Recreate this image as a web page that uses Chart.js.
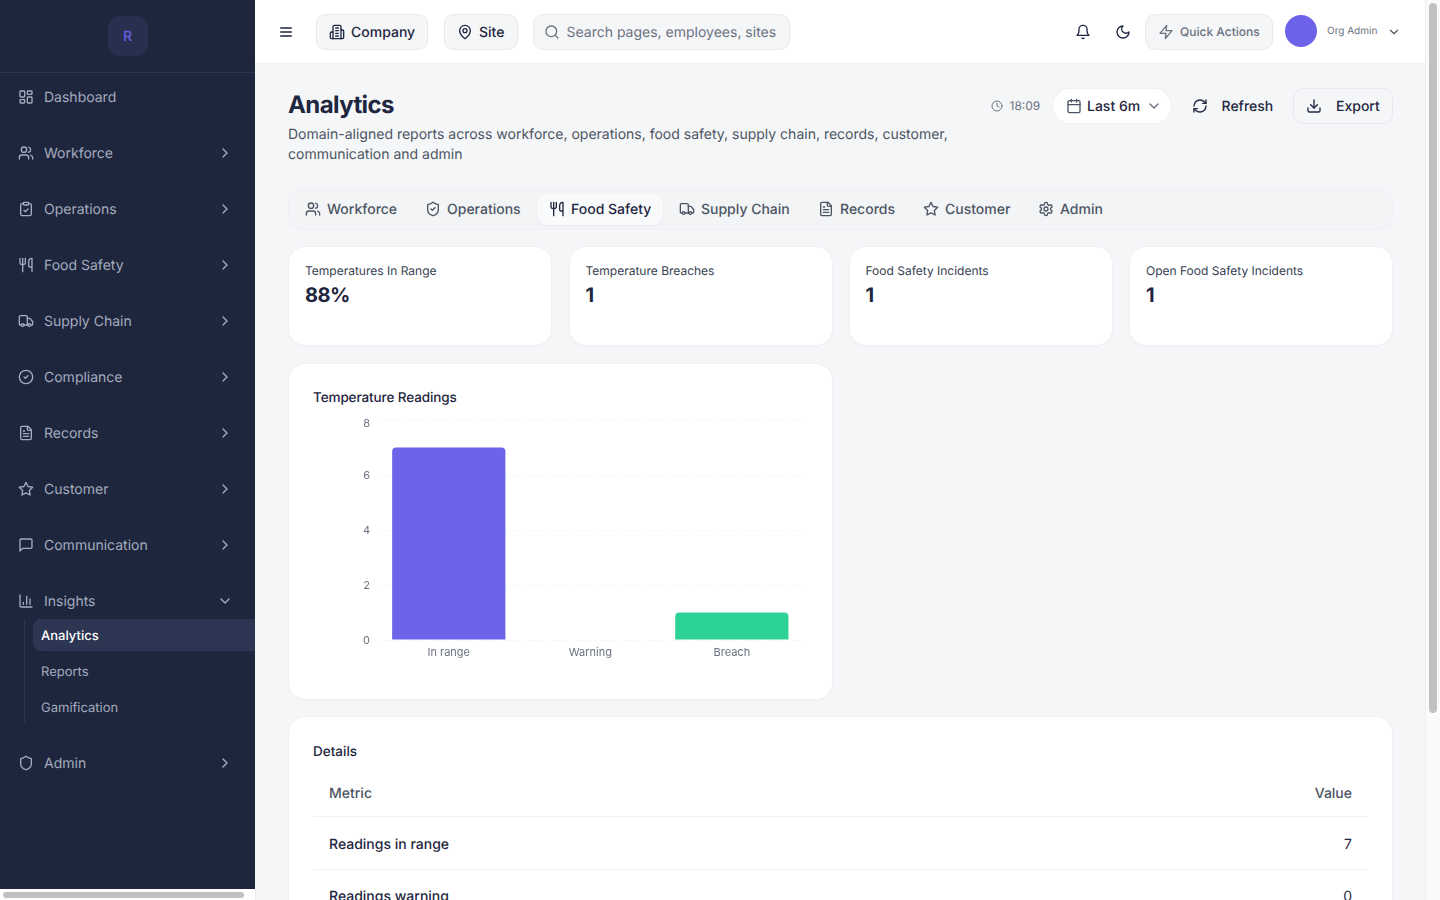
<!DOCTYPE html>
<html><head><meta charset="utf-8"><title>Analytics</title>
<script src="https://cdn.jsdelivr.net/npm/chart.js@4"></script>
<style>
*{box-sizing:border-box}
html,body{margin:0;padding:0;width:1440px;height:900px;overflow:hidden;background:#f5f6f8;font-family:Inter,sans-serif;color:#1e2640;text-rendering:geometricPrecision}
.a{position:absolute}
.t{position:absolute;white-space:nowrap;transform:translateY(-50%)}
.r{transform:translate(-100%,-50%)}
svg.i{position:absolute;fill:none;stroke:currentColor;stroke-width:2;stroke-linecap:round;stroke-linejoin:round}
.box{position:absolute;background:#f5f6f8;border:1px solid #e8eaee;border-radius:10px}
.card{position:absolute;background:#fff;border-radius:16px;box-shadow:0 0 0 1px #eff1f4,0 1px 3px rgba(20,30,50,.05)}
</style></head><body>
<div id="root"></div>
<div class="a" style="left:313px;top:410px;width:490px;height:270px;z-index:5"><canvas id="chart" width="490" height="270"></canvas></div>
<script>
const categories=['In range','Warning','Breach'];
const readings=[7,0,1];
const barColors=['#6c63e8','#f5b83d','#2dd296'];
const yMax=8;
const yStep=2;

const P={dash:'<rect x="3" y="3" width="7" height="9" rx="1"/><rect x="14" y="3" width="7" height="5" rx="1"/><rect x="14" y="12" width="7" height="9" rx="1"/><rect x="3" y="16" width="7" height="5" rx="1"/>',
users:'<path d="M16 21v-2a4 4 0 0 0-4-4H6a4 4 0 0 0-4 4v2"/><circle cx="9" cy="7" r="4"/><path d="M22 21v-2a4 4 0 0 0-3-3.87"/><path d="M16 3.13a4 4 0 0 1 0 7.75"/>',
clip:'<rect x="8" y="2" width="8" height="4" rx="1"/><path d="M16 4h2a2 2 0 0 1 2 2v14a2 2 0 0 1-2 2H6a2 2 0 0 1-2-2V6a2 2 0 0 1 2-2h2"/><path d="m9 14 2 2 4-4"/>',
food:'<path d="M3 2v7c0 1.1.9 2 2 2h4a2 2 0 0 0 2-2V2"/><path d="M7 2v20"/><path d="M21 15V2a5 5 0 0 0-5 5v6c0 1.1.9 2 2 2h3Zm0 0v7"/>',
truck:'<path d="M14 18V6a2 2 0 0 0-2-2H4a2 2 0 0 0-2 2v11a1 1 0 0 0 1 1h2"/><path d="M15 18H9"/><path d="M19 18h2a1 1 0 0 0 1-1v-3.65a1 1 0 0 0-.22-.624l-3.48-4.35A1 1 0 0 0 17.52 8H14"/><circle cx="17" cy="18" r="2"/><circle cx="7" cy="18" r="2"/>',
check:'<circle cx="12" cy="12" r="10"/><path d="m9 12 2 2 4-4"/>',
file:'<path d="M15 2H6a2 2 0 0 0-2 2v16a2 2 0 0 0 2 2h12a2 2 0 0 0 2-2V7Z"/><path d="M14 2v4a2 2 0 0 0 2 2h4"/><path d="M10 9H8"/><path d="M16 13H8"/><path d="M16 17H8"/>',
star:'<path d="M12 2l3.09 6.26L22 9.27l-5 4.87 1.18 6.88L12 17.77l-6.18 3.25L7 14.14 2 9.27l6.91-1.01L12 2z"/>',
msg:'<path d="M21 15a2 2 0 0 1-2 2H7l-4 4V5a2 2 0 0 1 2-2h14a2 2 0 0 1 2 2z"/>',
bars:'<path d="M3 3v16a2 2 0 0 0 2 2h16"/><path d="M18 17V9"/><path d="M13 17V5"/><path d="M8 17v-3"/>',
shield:'<path d="M20 13c0 5-3.5 7.5-7.66 8.95a1 1 0 0 1-.67-.01C7.5 20.5 4 18 4 13V6a1 1 0 0 1 1-1c2 0 4.5-1.2 6.24-2.72a1.17 1.17 0 0 1 1.52 0C14.51 3.81 17 5 19 5a1 1 0 0 1 1 1z"/>',
shieldc:'<path d="M20 13c0 5-3.5 7.5-7.66 8.95a1 1 0 0 1-.67-.01C7.5 20.5 4 18 4 13V6a1 1 0 0 1 1-1c2 0 4.5-1.2 6.24-2.72a1.17 1.17 0 0 1 1.52 0C14.51 3.81 17 5 19 5a1 1 0 0 1 1 1z"/><path d="m9 12 2 2 4-4"/>',
right:'<path d="m9 18 6-6-6-6"/>',down:'<path d="m6 9 6 6 6-6"/>',
menu:'<path d="M4 6h16M4 12h16M4 18h16"/>',
bld:'<path d="M6 22V4a2 2 0 0 1 2-2h8a2 2 0 0 1 2 2v18Z"/><path d="M6 12H4a2 2 0 0 0-2 2v6a2 2 0 0 0 2 2h2"/><path d="M18 9h2a2 2 0 0 1 2 2v9a2 2 0 0 1-2 2h-2"/><path d="M10 6h4M10 10h4M10 14h4M10 18h4"/>',
pin:'<path d="M20 10c0 6-8 12-8 12s-8-6-8-12a8 8 0 0 1 16 0Z"/><circle cx="12" cy="10" r="3"/>',
search:'<circle cx="11" cy="11" r="8"/><path d="m21 21-4.3-4.3"/>',
bell:'<path d="M6 8a6 6 0 0 1 12 0c0 7 3 9 3 9H3s3-2 3-9"/><path d="M10.3 21a1.94 1.94 0 0 0 3.4 0"/>',
moon:'<path d="M12 3a6 6 0 0 0 9 9 9 9 0 1 1-9-9Z"/>',
zap:'<path d="M13 2 3 14h9l-1 8 10-12h-9l1-8z"/>',
clock:'<circle cx="12" cy="12" r="10"/><path d="M12 6v6l4 2"/>',
cal:'<path d="M8 2v4M16 2v4"/><rect x="3" y="4" width="18" height="18" rx="2"/><path d="M3 10h18"/>',
refresh:'<path d="M3 12a9 9 0 0 1 9-9 9.75 9.75 0 0 1 6.74 2.74L21 8"/><path d="M21 3v5h-5"/><path d="M21 12a9 9 0 0 1-9 9 9.75 9.75 0 0 1-6.74-2.74L3 16"/><path d="M8 16H3v5"/>',
dl:'<path d="M21 15v4a2 2 0 0 1-2 2H5a2 2 0 0 1-2-2v-4"/><path d="m7 10 5 5 5-5"/><path d="M12 15V3"/>',
gear:'<path d="M12.22 2h-.44a2 2 0 0 0-2 2v.18a2 2 0 0 1-1 1.73l-.43.25a2 2 0 0 1-2 0l-.15-.08a2 2 0 0 0-2.73.73l-.22.38a2 2 0 0 0 .73 2.73l.15.1a2 2 0 0 1 1 1.72v.51a2 2 0 0 1-1 1.74l-.15.09a2 2 0 0 0-.73 2.73l.22.38a2 2 0 0 0 2.73.73l.15-.08a2 2 0 0 1 2 0l.43.25a2 2 0 0 1 1 1.73V20a2 2 0 0 0 2 2h.44a2 2 0 0 0 2-2v-.18a2 2 0 0 1 1-1.73l.43-.25a2 2 0 0 1 2 0l.15.08a2 2 0 0 0 2.73-.73l.22-.39a2 2 0 0 0-.73-2.73l-.15-.08a2 2 0 0 1-1-1.74v-.5a2 2 0 0 1 1-1.74l.15-.09a2 2 0 0 0 .73-2.73l-.22-.38a2 2 0 0 0-2.73-.73l-.15.08a2 2 0 0 1-2 0l-.43-.25a2 2 0 0 1-1-1.73V4a2 2 0 0 0-2-2z"/><circle cx="12" cy="12" r="3"/>'};

let h='';
const rect=(x,y,w,hh,s)=>{h+=`<div class="a" style="left:${x}px;top:${y}px;width:${w}px;height:${hh}px;${s}"></div>`};
const txt=(x,y,str,size,weight,color,extra='')=>{h+=`<div class="t" style="left:${x}px;top:${y}px;font-size:${size}px;font-weight:${weight};color:${color};${extra}">${str}</div>`};
const rtxt=(x,y,str,size,weight,color)=>{h+=`<div class="t r" style="left:${x}px;top:${y}px;font-size:${size}px;font-weight:${weight};color:${color}">${str}</div>`};
const ic=(n,cx,cy,s,color,sw=2)=>{h+=`<svg class="i" viewBox="0 0 24 24" style="left:${cx-s/2}px;top:${cy-s/2}px;width:${s}px;height:${s}px;color:${color};stroke-width:${sw};z-index:3">${P[n]}</svg>`};
const box=(x,y,w,hh,s='')=>{h+=`<div class="box" style="left:${x}px;top:${y}px;width:${w}px;height:${hh}px;${s}"></div>`};

/* sidebar */
rect(0,0,255,889,'background:#1e263e');
rect(0,72,255,1,'background:#2d3650');
rect(108,16,40,40,'background:#29304f;border-radius:12px');
h+=`<div class="t" style="left:127.5px;top:36px;font-size:14px;font-weight:600;color:#5f5ad6;transform:translate(-50%,-50%)">R</div>`;
const SC='#a4acbd';
const nav=[['Dashboard','dash',97,0],['Workforce','users',153,1],['Operations','clip',209,1],['Food Safety','food',265,1],['Supply Chain','truck',321,1],['Compliance','check',377,1],['Records','file',433,1],['Customer','star',489,1],['Communication','msg',545,1],['Insights','bars',601,2],['Admin','shield',763,1]];
nav.forEach(([l,n,y,c])=>{ic(n,26,y,16,SC,2);txt(44,y,l,14,400,SC);if(c)ic(c==1?'right':'down',225,y,16,SC,2);});
rect(24,619,1,104,'background:#2d3650');
rect(33,619,222,32,'background:#2c3552;border-radius:8px 0 0 8px');
txt(41,636,'Analytics',13,500,'#fff');txt(41,672,'Reports',13,400,SC);txt(41,708,'Gamification',13,400,SC);
rect(0,889,255,11,'background:#fff');
rect(3,892,241,6,'background:#c1c1c1;border-radius:4px');
rect(255,889,1,11,'background:#eceef1');

/* topbar */
rect(255,0,1170,63,'background:#fff;box-shadow:0 1px 0 #eef0f3');
ic('menu',286,32,16,'#1e2640',2);
box(316,14,112,36);ic('bld',337,32,16,'#1e2640',2);txt(351,32,'Company',14,500,'#1e2640');
box(444,14,74,36);ic('pin',465,32,16,'#1e2640',2);txt(479,32,'Site',14,500,'#1e2640');
box(533,14,257,36);ic('search',552,32,16,'#6b7280',2);txt(566.5,32,'Search pages, employees, sites',14,400,'#6b7280');
ic('bell',1083,32,16,'#1e2640',2);ic('moon',1123,32,16,'#1e2640',2);
box(1145,14,128,36);ic('zap',1166,32,16,'#6b7280',2);txt(1180,31,'Quick Actions',12,500,'#6b7280');
rect(1284.5,15,32,32,'background:#6c63e8;border-radius:50%');
txt(1327,31,'Org Admin',10,400,'#6b7280');ic('down',1394,31.5,14,'#4b5563',2);

/* heading */
txt(288,104,'Analytics',24,700,'#1e2640','letter-spacing:-.6px');
txt(288,134,'Domain-aligned reports across workforce, operations, food safety, supply chain, records, customer,',14,400,'#4b5563');
txt(288,154,'communication and admin',14,400,'#4b5563');
ic('clock',997,106,12,'#6b7280',2);txt(1009.5,105,'18:09',12,400,'#6b7280');
rect(1053,89,118,34,'background:#fff;border-radius:17px;box-shadow:0 0 0 1px #f0f1f4');
ic('cal',1073.5,106,16,'#4b5563',2);txt(1087,106,'Last 6m',14,500,'#1e2640');ic('down',1154,106,16,'#6b7280',2);
ic('refresh',1199.5,106,16,'#1e2640',2);txt(1221.5,106,'Refresh',14,500,'#1e2640');
box(1293,88,100,36,'background:transparent');ic('dl',1314,106,16,'#1e2640',2);txt(1336,106,'Export',14,500,'#1e2640');

/* tabs */
box(288,188,1105,42,'background:#f3f4f6;border-color:#eef0f3;border-radius:14px');
rect(537,194,126,31,'background:#f9fafb;border-radius:10px;box-shadow:0 1px 2px rgba(20,30,50,.06)');
const tabs=[['Workforce','users',313,327],['Operations','shieldc',433,447],['Food Safety','food',557,571],['Supply Chain','truck',687,701],['Records','file',826,840],['Customer','star',931,945],['Admin','gear',1046,1060]];
tabs.forEach(([l,n,ix,tx])=>{const on=l==='Food Safety';const c=on?'#1e2640':'#4b5563';ic(n,ix,209,16,c,2);txt(tx,209,l,14,500,c);});

/* KPI cards */
const kpis=[['Temperatures In Range','88%',289],['Temperature Breaches','1',569.5],['Food Safety Incidents','1',849.5],['Open Food Safety Incidents','1',1130]];
kpis.forEach(([l,v,x])=>{h+=`<div class="card" style="left:${x}px;top:247px;width:262px;height:98px"></div>`;txt(x+16,270,l,12,400,'#374151');txt(x+16,295,v,20,700,'#1e2640','letter-spacing:-.5px');});

/* chart card */
h+=`<div class="card" style="left:289px;top:364px;width:543px;height:335px"></div>`;
txt(313,398,'Temperature Readings',13.5,500,'#1e2640','letter-spacing:-.1px');

/* details */
h+=`<div class="card" style="left:289px;top:717px;width:1103px;height:400px"></div>`;
txt(313,752,'Details',13.5,500,'#1e2640');
txt(329,793,'Metric',14,500,'#4b5563');rtxt(1352,793,'Value',14,500,'#4b5563');
rect(313,816,1055,1,'background:#f0f1f4');
txt(329,844,'Readings in range',14,500,'#1e2640');rtxt(1352,844,'7',14,400,'#1e2640');
rect(313,869,1055,1,'background:#f0f1f4');
txt(329,896,'Readings warning',14,500,'#1e2640');rtxt(1352,896,'0',14,400,'#1e2640');

/* page scrollbar */
rect(1425,0,15,900,'background:#fafafa;border-left:1px solid #eceef1;z-index:6');
rect(1429,3,8,710,'background:#c1c1c1;border-radius:4px;z-index:7');
document.getElementById('root').innerHTML=h;

Chart.defaults.font.family='Inter, sans-serif';
new Chart(document.getElementById('chart'),{
  type:'bar',
  data:{labels:categories,datasets:[{data:readings,backgroundColor:barColors,borderRadius:{topLeft:4,topRight:4,bottomLeft:0,bottomRight:0},borderSkipped:false,barPercentage:.8,categoryPercentage:1}]},
  options:{
    responsive:false,animation:false,devicePixelRatio:1,
    layout:{padding:{top:10,right:.4,bottom:0,left:0}},
    plugins:{legend:{display:false},tooltip:{enabled:false},title:{display:false}},
    scales:{
      x:{grid:{display:false,drawTicks:false},border:{display:false},
         ticks:{color:'#6b7280',font:{size:11},padding:6,maxRotation:0},
         afterFit:s=>{s.height=40;s.paddingLeft=0;s.paddingRight=0}},
      y:{min:0,max:yMax,grid:{color:'#f3f4f6',lineWidth:1,drawTicks:false},border:{display:false,dash:[3,3]},
         ticks:{stepSize:yStep,color:'#6b7280',padding:8,
                font:c=>({size:11,lineHeight:c.tick&&c.tick.value===yMax?'8px':'2px'}),
                callback:v=>['',String(v)]},
         afterFit:s=>{s.width=65;s.paddingTop=0;s.paddingBottom=0}}
    }
  }
});
</script>
</body></html>
